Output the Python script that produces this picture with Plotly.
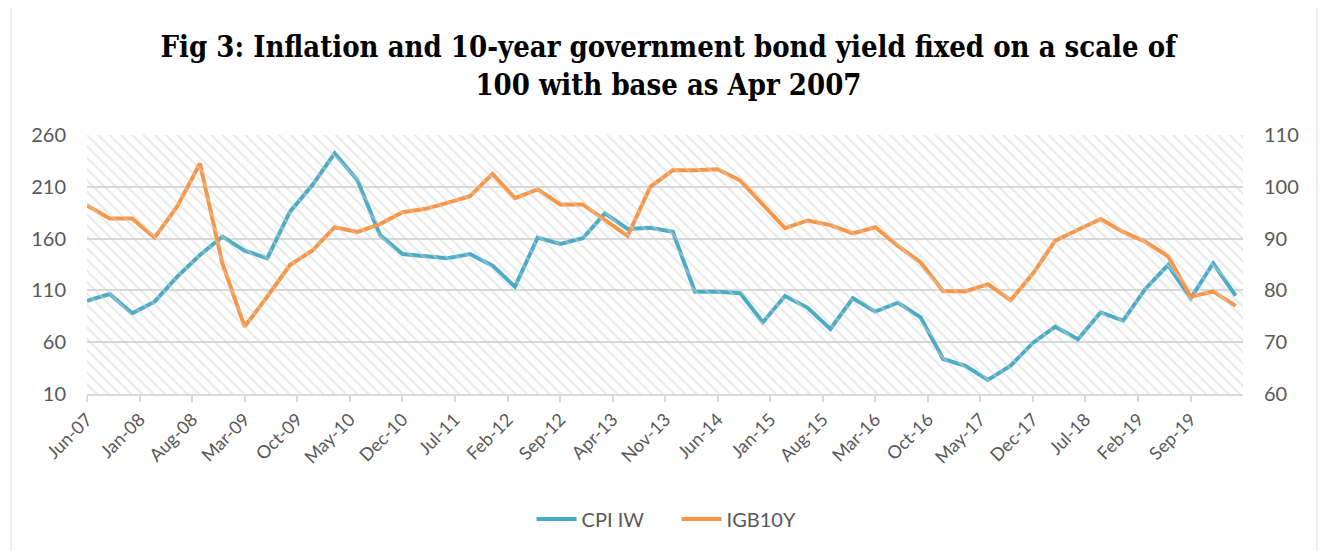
import plotly.graph_objects as go

dates = ["2007-06", "2007-09", "2007-12", "2008-03", "2008-06", "2008-09", "2008-12",
         "2009-03", "2009-06", "2009-09", "2009-12", "2010-03", "2010-06", "2010-09",
         "2010-12", "2011-03", "2011-06", "2011-09", "2011-12", "2012-03", "2012-06",
         "2012-09", "2012-12", "2013-03", "2013-06", "2013-09", "2013-12", "2014-03",
         "2014-06", "2014-09", "2014-12", "2015-03", "2015-06", "2015-09", "2015-12",
         "2016-03", "2016-06", "2016-09", "2016-12", "2017-03", "2017-06", "2017-09",
         "2017-12", "2018-03", "2018-06", "2018-09", "2018-12", "2019-03", "2019-06",
         "2019-09", "2019-12", "2020-03"]

cpi_iw = [100.0, 106.5, 87.9, 99.1, 123.3, 144.2, 161.9, 148.4, 141.0, 186.0,
          211.7, 242.3, 216.6, 163.5, 145.1, 142.6, 141.0, 145.1, 133.9, 113.6,
          160.9, 154.8, 160.3, 184.4, 169.3, 170.5, 166.7, 108.7, 108.7, 107.2,
          79.2, 104.6, 93.2, 72.7, 102.4, 89.5, 98.2, 84.0, 43.8, 37.3,
          23.5, 37.3, 59.5, 75.0, 62.8, 88.9, 80.8, 111.4, 134.5, 102.4,
          136.2, 104.9]

igb10y = [96.4, 93.9, 93.9, 90.2, 96.2, 104.5, 85.2, 73.0, 78.8, 84.9,
          87.7, 92.2, 91.3, 92.8, 95.1, 95.7, 96.9, 98.2, 102.5, 97.8,
          99.5, 96.6, 96.6, 93.6, 90.5, 100.0, 103.2, 103.2, 103.4, 101.2,
          96.6, 92.0, 93.5, 92.6, 91.0, 92.2, 88.6, 85.4, 79.9, 79.8,
          81.2, 78.1, 83.3, 89.6, 91.7, 93.8, 91.3, 89.4, 86.6, 78.8,
          79.8, 77.0]

x_dates = [d + "-01" for d in dates]

# page body has an 8px margin: compensate so the drawing lands where the reference has it
OFF = 8
WIN_W, WIN_H = 1329, 559
W, H = WIN_W - 2 * OFF, WIN_H - 2 * OFF
PX_L, PX_R, PX_T, PX_B = 87, 1243, 135, 394  # plot area in window pixels
L = PX_L - OFF
T = PX_T - OFF
R = (OFF + W) - PX_R
B = (OFF + H) - PX_B
pw, ph = PX_R - PX_L, PX_B - PX_T

def px_x(p):
    return (p - PX_L) / pw

def px_y(p):
    return (PX_B - p) / ph

font_family = "Lato, 'Open Sans', sans-serif"
grey = "#595959"

fig = go.Figure()

# Hatched plot-area background (decoration on a hidden overlay axis)
fig.add_trace(go.Scatter(
    x=[0, 1, 1, 0, 0], y=[0, 0, 1, 1, 0], xaxis="x3", yaxis="y3",
    mode="lines", line=dict(width=0), fill="toself",
    fillcolor="rgba(0,0,0,0)",
    fillpattern=dict(shape="\\", fgcolor="#d3d3d3", bgcolor="rgba(0,0,0,0)",
                     size=8, solidity=0.25),
    hoverinfo="skip", showlegend=False))

fig.add_trace(go.Scatter(
    x=x_dates, y=cpi_iw, name="CPI IW", mode="lines",
    line=dict(color="#4bacc6", width=4)))
fig.add_trace(go.Scatter(
    x=x_dates, y=igb10y, name="IGB10Y", mode="lines", yaxis="y2",
    line=dict(color="#f79646", width=4)))

fig.update_layout(
    width=W, height=H,
    margin=dict(l=L, r=R, t=T, b=B),
    paper_bgcolor="white", plot_bgcolor="white",
    font=dict(family=font_family, color=grey),
    title=dict(
        text="Fig 3: Inflation and 10-year government bond yield fixed on a scale of<br>100 with base as Apr 2007",
        x=0.503, xanchor="center", y=1 - (57 - OFF) / H, yanchor="middle", yref="container",
        font=dict(family="'DejaVu Serif Condensed', 'DejaVu Serif', serif", size=29,
                  color="black", weight="bold")),
    xaxis=dict(
        type="date", range=["2007-06-01", "2020-03-31"],
        tick0="2007-06-01", dtick="M7", tickformat="%b-%y", tickangle=-45,
        ticks="outside", ticklen=6, tickcolor="#d9d9d9", tickwidth=1.5,
        showline=True, linecolor="#d9d9d9", linewidth=2,
        showgrid=False, zeroline=False,
        tickfont=dict(size=18, color=grey)),
    yaxis=dict(
        range=[10, 260], tick0=10, dtick=50,
        showgrid=True, gridcolor="#d9d9d9", gridwidth=1.5,
        zeroline=False, showline=False, ticks="", ticklabelstandoff=20,
        tickfont=dict(size=20, color=grey)),
    yaxis2=dict(
        range=[60, 110], tick0=60, dtick=10, overlaying="y", side="right",
        showgrid=False, zeroline=False, showline=False, ticks="", ticklabelstandoff=20,
        tickfont=dict(size=20, color=grey)),
    xaxis3=dict(domain=[0, 1], range=[0, 1], visible=False, overlaying="x"),
    yaxis3=dict(domain=[0, 1], range=[0, 1], visible=False, overlaying="y"),
    legend=dict(orientation="h", x=0.51, xanchor="center", y=px_y(519), yanchor="middle",
                font=dict(size=20, color=grey), itemwidth=40,
                entrywidth=90, entrywidthmode="pixels"),
    shapes=[dict(type="rect", xref="paper", yref="paper",
                 x0=px_x(11), x1=px_x(1317), y0=px_y(553), y1=px_y(7),
                 line=dict(color="#d9d9d9", width=1), fillcolor="rgba(0,0,0,0)",
                 layer="below")],
    showlegend=True,
)

fig.write_html("out.html")
